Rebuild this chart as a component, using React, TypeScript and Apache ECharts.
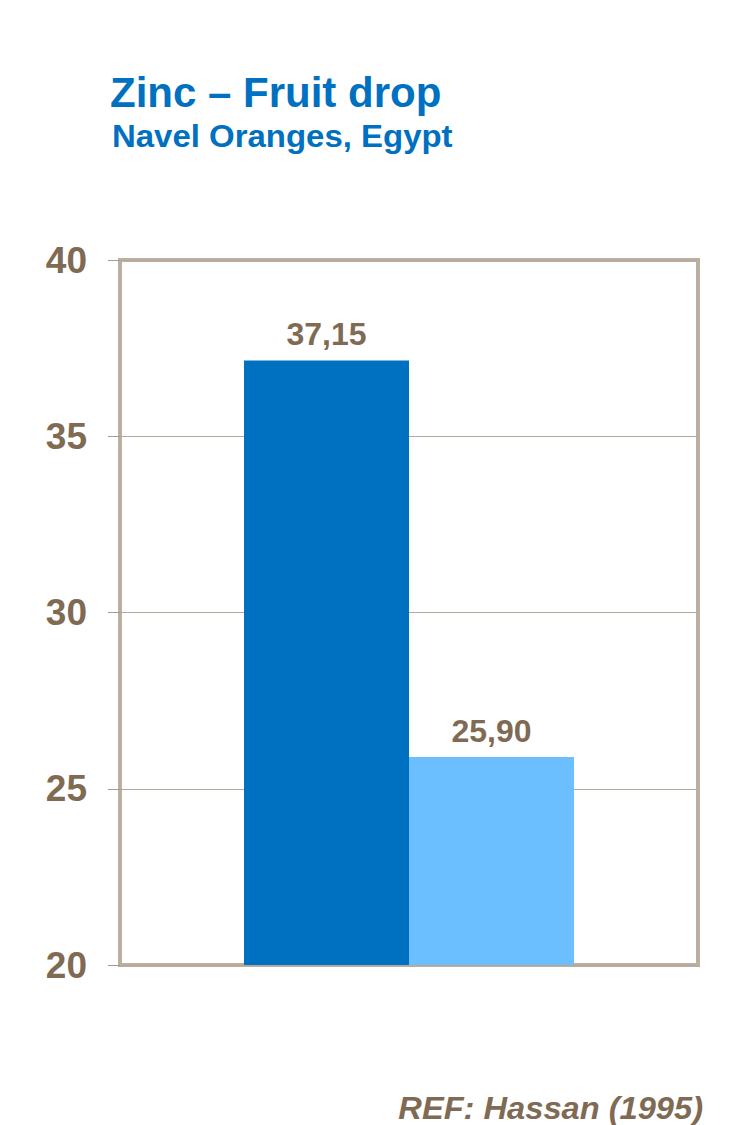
import React, { useEffect, useRef } from "react";
import * as echarts from "echarts";

const categories = [""];
const seriesNames = ["Control", "Zinc"];
const seriesValues = [37.15, 25.9];
const seriesColors = ["#0070C0", "#6BBFFF"];
const yTicks = { min: 20, max: 40, interval: 5 };
const titleText = "Zinc – Fruit drop";
const subtitleText = "Navel Oranges, Egypt";
const refText = "REF: Hassan (1995)";

const brown = "#7F6A54";
const blue = "#0070C0";
const font = "'Liberation Sans', Arial, sans-serif";

export default function App() {
  const ref = useRef<HTMLDivElement>(null);
  useEffect(() => {
    if (!ref.current) return;
    const chart = echarts.init(ref.current, null, { renderer: "svg" });
    chart.setOption({
      animation: false,
      backgroundColor: "#ffffff",
      grid: {
        left: 120,
        right: 52,
        top: 260,
        bottom: 160,
        show: true,
        borderColor: "#BBAFA2",
        borderWidth: 4,
        backgroundColor: "transparent",
      },
      xAxis: {
        type: "category",
        data: categories,
        axisLine: { show: false },
        axisTick: { show: false },
        axisLabel: { show: false },
      },
      yAxis: {
        type: "value",
        min: yTicks.min,
        max: yTicks.max,
        interval: yTicks.interval,
        axisLine: { show: false },
        axisTick: { show: true, length: 12, lineStyle: { color: "#A89C8E", width: 1 } },
        axisLabel: {
          margin: 33,
          color: brown,
          fontSize: 37,
          fontWeight: "bold",
          fontFamily: font,
        },
        splitLine: { show: true, lineStyle: { color: "#B3A899", width: 1 } },
      },
      series: seriesValues.map((v, i) => ({
        name: seriesNames[i],
        type: "bar",
        data: [v],
        barWidth: 165,
        barGap: "0%",
        itemStyle: { color: seriesColors[i] },
        label: {
          show: true,
          position: "top",
          distance: 10,
          color: brown,
          fontSize: 32,
          fontWeight: "bold",
          fontFamily: font,
          formatter: (p: any) => Number(p.value).toFixed(2).replace(".", ","),
        },
      })),
      graphic: [
        {
          type: "text",
          x: 110,
          y: 92,
          style: {
            text: titleText,
            x: 0,
            y: 0,
            fill: blue,
            font: `bold 42px ${font}`,
            align: "left",
            verticalAlign: "middle",
          },
        },
        {
          type: "text",
          x: 112,
          y: 136,
          scaleX: 1.03,
          style: {
            text: subtitleText,
            x: 0,
            y: 0,
            fill: blue,
            font: `bold 32px ${font}`,
            align: "left",
            verticalAlign: "middle",
          },
        },
        {
          type: "text",
          x: 703,
          y: 1108,
          scaleX: 1.02,
          style: {
            text: refText,
            x: 0,
            y: 0,
            fill: brown,
            font: `italic bold 32px ${font}`,
            lineHeight: 28,
            align: "right",
            verticalAlign: "middle",
          },
        },
      ],
    });
    return () => chart.dispose();
  }, []);
  return (
    <div
      ref={ref}
      style={{ position: "absolute", left: 0, top: 0, width: 750, height: 1125 }}
    />
  );
}
